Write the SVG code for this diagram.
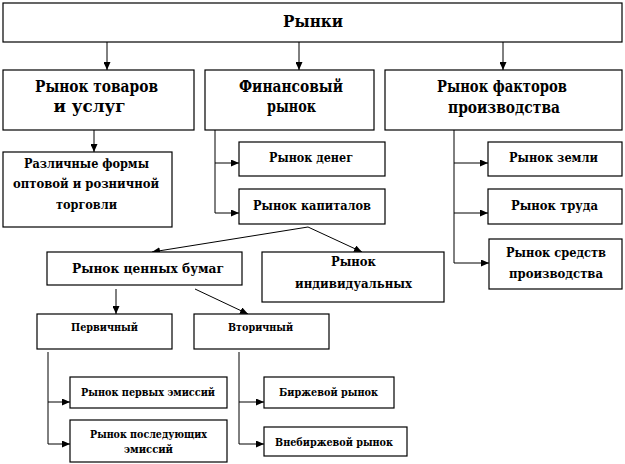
<svg xmlns="http://www.w3.org/2000/svg" width="625" height="464" viewBox="0 0 625 464">
<style>
.b{fill:#fff;stroke:#000;stroke-width:1.2}
text{font-family:'DejaVu Serif','Liberation Serif','Times New Roman',serif;font-weight:bold;text-anchor:middle;fill:#000}
.t0{font-size:17.5px}
.t1{font-size:16px}
.t2{font-size:13px}
.t3{font-size:12.5px}
.t4{font-size:11.5px}
.c{fill:none;stroke:#000;stroke-width:1}
</style>
<defs>
<marker id="ar" viewBox="0 0 8 7" refX="8" refY="3.5" markerWidth="8" markerHeight="7" markerUnits="userSpaceOnUse" orient="auto">
<path d="M0,0 L8,3.5 L0,7 z" fill="#000"/>
</marker>
</defs>
<rect width="625" height="464" fill="#fff"/>
<g id="connectors">
<path class="c" d="M107,42 V70" marker-end="url(#ar)"/>
<path class="c" d="M299,42 V70" marker-end="url(#ar)"/>
<path class="c" d="M503,42 V70" marker-end="url(#ar)"/>
<path class="c" d="M94,130 V152" marker-end="url(#ar)"/>
<path class="c" d="M215,130 V213"/>
<path class="c" d="M215,163 H239" marker-end="url(#ar)"/>
<path class="c" d="M215,213 H239" marker-end="url(#ar)"/>
<path class="c" d="M454,130 V263"/>
<path class="c" d="M454,163 H488" marker-end="url(#ar)"/>
<path class="c" d="M454,213 H488" marker-end="url(#ar)"/>
<path class="c" d="M454,263 H489" marker-end="url(#ar)"/>
<path class="c" d="M308,227 L152,252" marker-end="url(#ar)"/>
<path class="c" d="M308,227 L362,252" marker-end="url(#ar)"/>
<path class="c" d="M116,289 V314" marker-end="url(#ar)"/>
<path class="c" d="M195,289 L248,314" marker-end="url(#ar)"/>
<path class="c" d="M48,352 V444"/>
<path class="c" d="M48,402 H70" marker-end="url(#ar)"/>
<path class="c" d="M48,444 H70" marker-end="url(#ar)"/>
<path class="c" d="M239,352 V444"/>
<path class="c" d="M239,402 H264" marker-end="url(#ar)"/>
<path class="c" d="M239,444 H264" marker-end="url(#ar)"/>
</g>
<g id="rynki"><rect class="b" x="3" y="3" width="619" height="39"/><text class="t0" x="313" y="27" textLength="60" lengthAdjust="spacingAndGlyphs">Рынки</text></g>
<g id="tovary"><rect class="b" x="3" y="70" width="191" height="60"/><text class="t1" x="96.5" y="92" textLength="123" lengthAdjust="spacingAndGlyphs">Рынок товаров</text><text class="t1" x="89.5" y="112" textLength="72" lengthAdjust="spacingAndGlyphs">и услуг</text></g>
<g id="finance"><rect class="b" x="205" y="70" width="169" height="60"/><text class="t1" x="291" y="92" textLength="104" lengthAdjust="spacingAndGlyphs">Финансовый</text><text class="t1" x="291.5" y="112" textLength="49" lengthAdjust="spacingAndGlyphs">рынок</text></g>
<g id="factors"><rect class="b" x="385" y="70" width="237" height="60"/><text class="t1" x="502" y="92" textLength="130" lengthAdjust="spacingAndGlyphs">Рынок факторов</text><text class="t1" x="504" y="113" textLength="112" lengthAdjust="spacingAndGlyphs">производства</text></g>
<g id="torgovlia"><rect class="b" x="3" y="152" width="169" height="75"/><text class="t2" x="86.5" y="168" textLength="125" lengthAdjust="spacingAndGlyphs">Различные формы</text><text class="t2" x="86" y="188" textLength="146" lengthAdjust="spacingAndGlyphs">оптовой и розничной</text><text class="t2" x="86.5" y="209" textLength="61" lengthAdjust="spacingAndGlyphs">торговли</text></g>
<g id="dengi"><rect class="b" x="239" y="142" width="146" height="34"/><text class="t3" x="311" y="162" textLength="84" lengthAdjust="spacingAndGlyphs">Рынок денег</text></g>
<g id="kapital"><rect class="b" x="239" y="189" width="146" height="35"/><text class="t3" x="312" y="210" textLength="118" lengthAdjust="spacingAndGlyphs">Рынок капиталов</text></g>
<g id="zemlia"><rect class="b" x="488" y="142" width="134" height="34"/><text class="t3" x="553.5" y="162" textLength="89" lengthAdjust="spacingAndGlyphs">Рынок земли</text></g>
<g id="trud"><rect class="b" x="488" y="189" width="134" height="35"/><text class="t3" x="554.5" y="209.5" textLength="87" lengthAdjust="spacingAndGlyphs">Рынок труда</text></g>
<g id="sredstva"><rect class="b" x="489" y="239" width="133" height="50"/><text class="t3" x="556" y="257" textLength="100" lengthAdjust="spacingAndGlyphs">Рынок средств</text><text class="t3" x="556" y="278" textLength="94" lengthAdjust="spacingAndGlyphs">производства</text></g>
<g id="cennye"><rect class="b" x="47" y="252" width="195" height="33"/><text class="t3" x="148" y="273" textLength="152" lengthAdjust="spacingAndGlyphs">Рынок ценных бумаг</text></g>
<g id="individ"><rect class="b" x="262" y="252" width="182" height="50"/><text class="t3" x="353.5" y="266" textLength="45" lengthAdjust="spacingAndGlyphs">Рынок</text><text class="t3" x="353.5" y="288" textLength="117" lengthAdjust="spacingAndGlyphs">индивидуальных</text></g>
<g id="pervichny"><rect class="b" x="37" y="314" width="135" height="35"/><text class="t4" x="104.5" y="331" textLength="67" lengthAdjust="spacingAndGlyphs">Первичный</text></g>
<g id="vtorichny"><rect class="b" x="194" y="314" width="135" height="35"/><text class="t4" x="260.5" y="331" textLength="65" lengthAdjust="spacingAndGlyphs">Вторичный</text></g>
<g id="pervye"><rect class="b" x="70" y="377" width="157" height="31"/><text class="t4" x="148" y="396" textLength="134" lengthAdjust="spacingAndGlyphs">Рынок первых эмиссий</text></g>
<g id="posled"><rect class="b" x="70" y="420" width="157" height="42"/><text class="t4" x="148.5" y="438" textLength="117" lengthAdjust="spacingAndGlyphs">Рынок последующих</text><text class="t4" x="148.5" y="453" textLength="49" lengthAdjust="spacingAndGlyphs">эмиссий</text></g>
<g id="birzh"><rect class="b" x="264" y="377" width="130" height="31"/><text class="t4" x="328.5" y="396" textLength="99" lengthAdjust="spacingAndGlyphs">Биржевой рынок</text></g>
<g id="vnebirzh"><rect class="b" x="264" y="427" width="143" height="29"/><text class="t4" x="334" y="446" textLength="118" lengthAdjust="spacingAndGlyphs">Внебиржевой рынок</text></g>
</svg>
